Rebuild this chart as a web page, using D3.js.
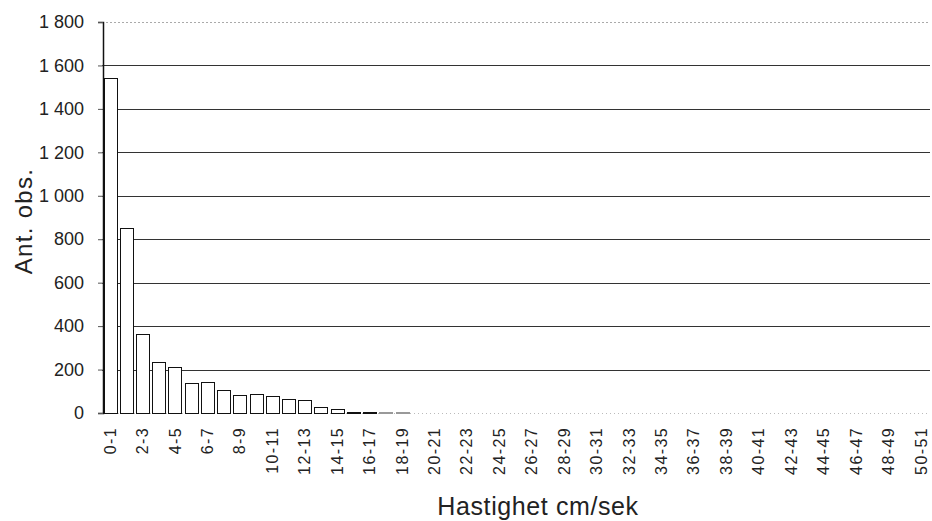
<!DOCTYPE html>
<html><head><meta charset="utf-8">
<script src="https://cdn.jsdelivr.net/npm/d3@7"></script>
<style>body{margin:0;background:#fff}svg{display:block}</style>
</head><body><svg id="c" width="932" height="521"></svg>
<script>
const categories = d3.range(0, 51).map(i => `${i}-${i+1}`);
const values = [1542, 852, 362, 233, 210, 137, 141, 106, 83, 86, 78, 63, 62, 26, 17, 6, 5, 4, 3, 1,
  1, 1, 1, 1, 1, 1, 1, 1, 1, 1, 1, 1, 1, 1, 1, 1, 1, 1, 1, 1,
  1, 1, 1, 1, 1, 1, 1, 1, 1, 1, 1];
const yTicks = [0, 200, 400, 600, 800, 1000, 1200, 1400, 1600, 1800];
const yTitle = "Ant. obs.";
const xTitle = "Hastighet cm/sek";

const FONT = "Liberation Sans, Arial, sans-serif";
const svg = d3.select("#c");
const m = {l: 102, r: 3, t: 22, b: 108};
const W = 932, H = 521;
const x = d3.scaleBand().domain(categories).range([m.l, W - m.r]).paddingInner(0.2).paddingOuter(0.1);
const y = d3.scaleLinear().domain([0, 1800]).range([H - m.b, m.t]);
const fmt = v => d3.format(",")(v).replace(",", " ");

// gridlines
svg.append("g").selectAll("line").data(yTicks.filter(d => d > 0)).join("line")
  .attr("x1", m.l).attr("x2", W - 2)
  .attr("y1", d => Math.round(y(d)) + 0.5).attr("y2", d => Math.round(y(d)) + 0.5)
  .attr("stroke", d => d === 1800 ? "#aaa" : "#333")
  .attr("stroke-width", d => d === 1800 ? 1 : 1.2)
  .attr("stroke-dasharray", d => d === 1800 ? "2,2" : null);

// x baseline (faint dotted)
svg.append("line").attr("x1", m.l).attr("x2", W - 2)
  .attr("y1", y(0) + 0.5).attr("y2", y(0) + 0.5)
  .attr("stroke", "#bbb").attr("stroke-dasharray", "1,3");

// bars
svg.append("g").selectAll("rect").data(values).join("rect")
  .attr("x", (d, i) => Math.round(x(categories[i])) + 0.5)
  .attr("y", d => Math.round(y(d)) + 0.5)
  .attr("width", Math.round(x.bandwidth()))
  .attr("height", d => Math.max(0, Math.round(y(0)) - Math.round(y(d))))
  .attr("fill", "#fff").attr("stroke", d => d < 5 ? "#999" : "#111").attr("stroke-width", 1);

// y axis
const ya = d3.axisLeft(y).tickValues(yTicks).tickFormat(fmt).tickSize(5).tickPadding(14);
const yg = svg.append("g").attr("transform", `translate(${m.l + 1},0)`).call(ya);
yg.select(".domain").attr("stroke", "#111").attr("stroke-width", 1.5);
yg.selectAll(".tick line").attr("stroke", "#555");
yg.selectAll("text").attr("font-family", FONT).attr("font-size", 18).attr("fill", "#222");

// x labels (every other)
const xa = d3.axisBottom(x).tickValues(categories.filter((d, i) => i % 2 === 0)).tickSize(0).tickPadding(0);
const xg = svg.append("g").attr("transform", `translate(0,${y(0)})`).call(xa);
xg.select(".domain").remove();
xg.selectAll("text")
  .attr("font-family", FONT).attr("font-size", 16).attr("letter-spacing", "1.4px").attr("fill", "#222")
  .attr("transform", "rotate(-90)").attr("text-anchor", "end")
  .attr("x", -14).attr("y", 0).attr("dy", "0.35em");

// titles
svg.append("text").attr("transform", `translate(32,221) rotate(-90)`)
  .attr("text-anchor", "middle").attr("font-family", FONT).attr("letter-spacing", "1.3px")
  .attr("font-size", 24).attr("fill", "#222").text(yTitle);
svg.append("text").attr("x", 538).attr("y", 515).attr("text-anchor", "middle")
  .attr("font-family", FONT).attr("letter-spacing", "0.6px")
  .attr("font-size", 25).attr("fill", "#222").text(xTitle);
</script></body></html>
